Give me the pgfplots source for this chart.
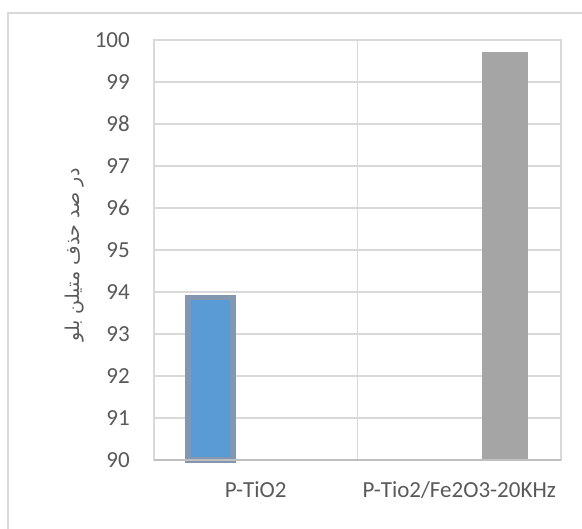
\documentclass[border=0pt]{standalone}
\usepackage{fontspec}
\setmainfont{Carlito}
\newfontfamily\arabicfont[Script=Arabic]{DejaVu Sans}
\TeXXeTstate=1
\usepackage{pgfplots}
\pgfplotsset{compat=1.18}

\definecolor{txt}{HTML}{595959}
\definecolor{gridc}{HTML}{D9D9D9}
\definecolor{basec}{HTML}{BFBFBF}
\definecolor{barblue}{HTML}{5B9BD5}
\definecolor{barblueedge}{HTML}{8497B0}
\definecolor{bargrey}{HTML}{A5A5A5}

\begin{document}
\begin{tikzpicture}[x=1bp,y=1bp]
\useasboundingbox (0,0) rectangle (582,-529);
% chart area frame
\draw[gridc, line width=1.3bp] (8,-600) -- (8,-13) -- (640,-13);
\begin{axis}[
  at={(154bp,-460bp)}, anchor=south west,
  scale only axis, width=407bp, height=420bp,
  font=\fontsize{23bp}{27bp}\selectfont,
  /pgf/number format/assume math mode=true,
  y coord trafo/.code={\pgfmathparse{#1-90}},
  y coord inv trafo/.code={\pgfmathparse{#1+90}},
  xmin=-0.5, xmax=1.5, ymin=90, ymax=100,
  ytick={90,91,...,100},
  xtick={0,1},
  xticklabels={P-TiO2, P-Tio2/Fe2O3-20KHz},
  extra x ticks={0.5},
  extra x tick labels={},
  extra x tick style={xmajorgrids=true},
  ymajorgrids,
  grid style={gridc, line width=1.3bp},
  major tick length=0,
  axis line style={gridc, line width=1.3bp},
  tick label style={txt},
  yticklabel style={inner sep=0pt, anchor=east, xshift=-24bp},
  xticklabel style={inner sep=0pt, anchor=north, yshift=-21bp},
  clip=false,
]
\addplot[ybar, bar width=45bp, bar shift=-45.5bp,
  fill=barblue, draw=barblueedge, line width=5.5bp]
  coordinates {(0,93.87)};
\addplot[ybar, bar width=46bp, bar shift=45.5bp,
  fill=bargrey, draw=none]
  coordinates {(1,99.71)};
\draw[basec, line width=1.3bp] (rel axis cs:0,0) -- (rel axis cs:1,0);
\end{axis}
\node[rotate=90, txt, inner sep=0pt, font=\arabicfont\fontsize{19bp}{23bp}\selectfont]
  at (75,-255) {\beginR در صد حذف متیلن بلو\endR};
\end{tikzpicture}
\end{document}
